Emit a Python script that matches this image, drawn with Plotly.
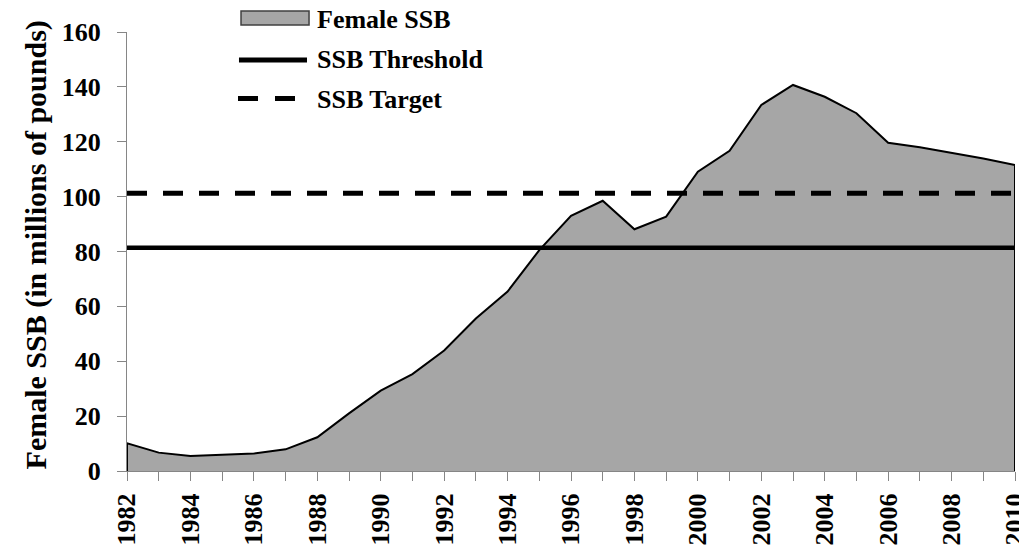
import plotly.graph_objects as go

years = list(range(1982, 2011))
female_ssb = [10.1, 6.7, 5.5, 5.9, 6.4, 7.9, 12.3, 21.0, 29.3, 35.3, 43.9, 55.6, 65.4, 80.5,
              93.0, 98.5, 88.1, 92.7, 109.1, 116.7, 133.4, 140.7, 136.4, 130.4, 119.6,
              118.0, 116.0, 113.9, 111.5]
ssb_threshold = 81.4
ssb_target = 101.2
series_names = ["Female SSB", "SSB Threshold", "SSB Target"]
y_title = "Female SSB (in millions of pounds)"

FONT = "Liberation Serif"
AREA_GRAY = "#a6a6a6"
AXIS_COLOR = "#868686"

fig = go.Figure()

fig.add_trace(go.Scatter(
    x=[years[0]] + years + [years[-1]],
    y=[0] + female_ssb + [0],
    mode="lines", fill="toself", fillcolor=AREA_GRAY,
    line=dict(color="black", width=2),
    name=series_names[0], hoverinfo="skip",
))
fig.add_trace(go.Scatter(
    x=[years[0], years[-1]], y=[ssb_threshold, ssb_threshold],
    mode="lines", line=dict(color="black", width=4.5),
    name=series_names[1],
))
fig.add_trace(go.Scatter(
    x=[years[0], years[-1]], y=[ssb_target, ssb_target],
    mode="lines", line=dict(color="black", width=5, dash="20px,16px"),
    name=series_names[2],
))

# ---- legend (drawn in paper coordinates, above the plot area) ----
lx0, lx1, tx = 0.1284, 0.2050, 0.2120
fig.add_shape(type="rect", xref="paper", yref="paper", x0=lx0, x1=lx1, y0=1.0159, y1=1.0478,
              fillcolor=AREA_GRAY, line=dict(color="#404040", width=1.5), layer="above")
fig.add_shape(type="line", xref="paper", yref="paper", x0=0.1261, x1=0.2027, y0=0.9362, y1=0.9362,
              line=dict(color="black", width=5), layer="above")
fig.add_shape(type="line", xref="paper", yref="paper", x0=0.1250, x1=0.2027, y0=0.8485, y1=0.8485,
              line=dict(color="black", width=5, dash="20px,17px"), layer="above")
for name, ty in zip(series_names, [1.0275, 0.9377, 0.8468]):
    fig.add_annotation(text=name, xref="paper", yref="paper", x=tx, y=ty,
                       xanchor="left", yanchor="middle", showarrow=False,
                       font=dict(family=FONT, size=26, color="black", weight="bold"))

# ---- y-axis title ----
fig.add_annotation(text=y_title, xref="paper", yref="paper", x=-0.1014, y=0.516,
                   xanchor="center", yanchor="middle", textangle=-90, showarrow=False,
                   font=dict(family=FONT, size=30, color="black", weight="bold"))

fig.update_layout(
    width=1019, height=547,
    margin=dict(l=119, r=12, t=24, b=84, autoexpand=False),
    paper_bgcolor="white", plot_bgcolor="white",
    font=dict(family=FONT, size=26, color="black", weight="bold"),
    showlegend=False,
    xaxis=dict(
        range=[1982, 2010], tickvals=years[::2], ticktext=[str(y) for y in years[::2]],
        showgrid=False, zeroline=False,
        showline=True, linecolor=AXIS_COLOR, linewidth=1,
        ticks="outside", ticklen=9, tickcolor=AXIS_COLOR,
        tickangle=-90, ticklabeloverflow="allow", ticklabelstandoff=2,
        tickfont=dict(family=FONT, size=26, weight="bold"),
        minor=dict(tickvals=years, ticks="outside", ticklen=9, tickcolor=AXIS_COLOR, showgrid=False),
        automargin=False,
    ),
    yaxis=dict(
        range=[0, 160], tick0=0, dtick=20,
        showgrid=False, zeroline=False,
        showline=True, linecolor=AXIS_COLOR, linewidth=1,
        ticks="outside", ticklen=9, tickcolor=AXIS_COLOR,
        ticklabelstandoff=11,
        tickfont=dict(family=FONT, size=26, weight="bold"),
        automargin=False,
    ),
)

fig.write_html("out.html")
